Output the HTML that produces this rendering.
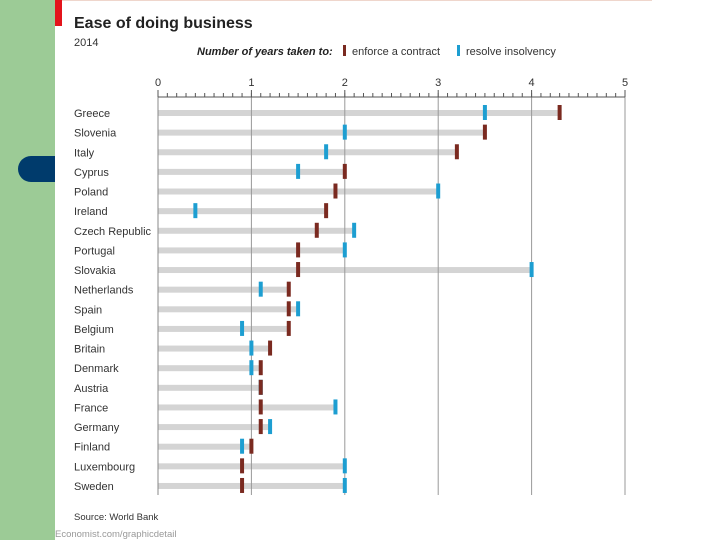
<!DOCTYPE html>
<html><head><meta charset="utf-8"><style>
body{margin:0;width:720px;height:540px;overflow:hidden;background:#fff;font-family:"Liberation Sans",sans-serif;}
</style></head><body>
<div style="position:absolute;left:0;top:0;width:55px;height:540px;background:#9ccb96"></div>
<div style="position:absolute;left:18px;top:156px;width:37px;height:26px;background:#003b6c;border-radius:13px 0 0 13px"></div>
<div style="position:absolute;left:55px;top:0;width:7px;height:26px;background:#e3141b"></div>
<div style="position:absolute;left:62px;top:0;width:590px;height:1px;background:#efd6cc"></div>
<svg id="c" width="720" height="540" style="position:absolute;left:0;top:0">
<text x="74" y="28" font-size="16" font-weight="bold" fill="#222">Ease of doing business</text>
<text x="74" y="46" font-size="11" fill="#333">2014</text>
<text x="197" y="55" font-size="11" font-style="italic" font-weight="bold" fill="#222">Number of years taken to:</text>
<rect x="343" y="45" width="3" height="11" fill="#7a2a20"/>
<text x="352" y="55" font-size="11" fill="#333">enforce a contract</text>
<rect x="457" y="45" width="3" height="11" fill="#1d9ed1"/>
<text x="466" y="55" font-size="11" fill="#333">resolve insolvency</text>
<text x="74" y="520" font-size="9.5" fill="#333">Source: World Bank</text>
<text x="55" y="537" font-size="9.5" fill="#999">Economist.com/graphicdetail</text>
<g id="g"></g>
</svg>
<script>
const countries=["Greece","Slovenia","Italy","Cyprus","Poland","Ireland","Czech Republic","Portugal","Slovakia","Netherlands","Spain","Belgium","Britain","Denmark","Austria","France","Germany","Finland","Luxembourg","Sweden"];
const enforce=[4.3,3.5,3.2,2.0,1.9,1.8,1.7,1.5,1.5,1.4,1.4,1.4,1.2,1.1,1.1,1.1,1.1,1.0,0.9,0.9];
const insolvency=[3.5,2.0,1.8,1.5,3.0,0.4,2.1,2.0,4.0,1.1,1.5,0.9,1.0,1.0,1.1,1.9,1.2,0.9,2.0,2.0];
const ticks=[0,1,2,3,4,5];
const NS="http://www.w3.org/2000/svg",g=document.getElementById('g');
const X=v=>158+v*93.4, Y=i=>113+i*19.63;
function mk(t,a){const e=document.createElementNS(NS,t);for(const k in a)e.setAttribute(k,a[k]);g.appendChild(e);return e;}
countries.forEach((c,i)=>{
 const b=mk('rect',{x:X(0),y:Y(i)-3,width:X(Math.max(enforce[i],insolvency[i]))-X(0),height:6,fill:'#d4d4d4'});
 
 
 const l=mk('text',{x:74,y:Y(i)+4,'font-size':11,fill:'#333'});l.textContent=c;
 
 
});
ticks.forEach(t=>{
 const ln=mk('line',{x1:X(t),x2:X(t),y1:93,y2:495,stroke:t==0?'#888':'#999','stroke-width':1});
 
 
 const tx=mk('text',{x:X(t),y:86,'font-size':11,'text-anchor':'middle',fill:'#333'});tx.textContent=t;
 
 
});
const ax=mk('line',{x1:X(0),x2:X(5),y1:97,y2:97,stroke:'#555'});


for(let k=0;k<=50;k++){const m=mk('line',{x1:X(k/10),x2:X(k/10),y1:k%10?93:90,y2:97,stroke:'#555'});
 
 }
countries.forEach((c,i)=>{
 const a=mk('rect',{x:X(insolvency[i])-2,y:Y(i)-8,width:4,height:15,fill:'#1d9ed1'});
 
 
 const b=mk('rect',{x:X(enforce[i])-2,y:Y(i)-8,width:4,height:15,fill:'#7a2a20'});
 
 
});
</script>
</body></html>
